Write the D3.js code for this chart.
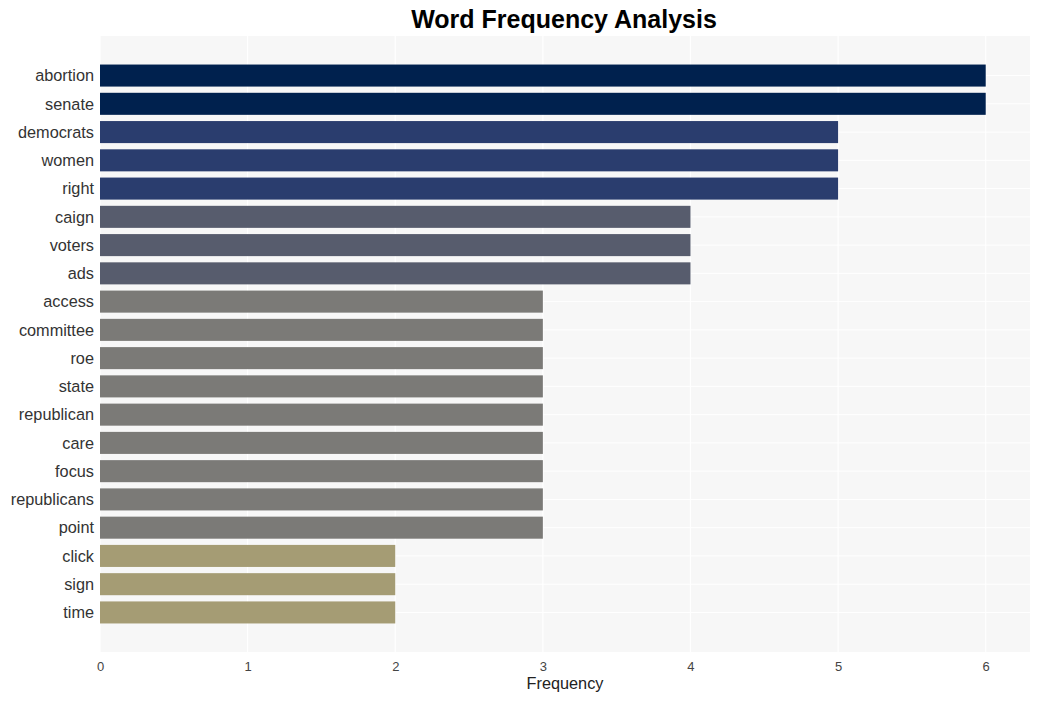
<!DOCTYPE html>
<html>
<head>
<meta charset="utf-8">
<script src="https://cdn.jsdelivr.net/npm/d3@7"></script>
<style>
  html, body { margin: 0; padding: 0; background: #ffffff; }
  text { font-family: "Liberation Sans", Arial, sans-serif; }
</style>
</head>
<body>
<svg id="chart" width="1039" height="701"></svg>
<script>
const words = ["abortion","senate","democrats","women","right","caign","voters","ads","access","committee","roe","state","republican","care","focus","republicans","point","click","sign","time"];
const counts = [6,6,5,5,5,4,4,4,3,3,3,3,3,3,3,3,3,2,2,2];
const xTicks = [0,1,2,3,4,5,6];
const colorKeys = [2,3,4,5,6];
const colorVals = ["#a59c74","#7b7a77","#575c6d","#2a3d6e","#00214e"];

const svg = d3.select("#chart");
const pLeft = 100, pRight = 1030, pTop = 36, pBottom = 652;

const x = d3.scaleLinear().domain([0, 6.3]).range([pLeft, pRight]);
const y = d3.scalePoint().domain(words).range([pTop, pBottom]).padding(1.4);
const color = d3.scaleOrdinal().domain(colorKeys).range(colorVals);
const barH = y.step() * 0.78;

// panel
svg.append("rect").attr("x", pLeft).attr("y", pTop)
  .attr("width", pRight - pLeft).attr("height", pBottom - pTop).attr("fill", "#f7f7f7");

// grid
svg.append("g").selectAll("line").data(words).join("line")
  .attr("x1", pLeft).attr("x2", pRight)
  .attr("y1", d => y(d)).attr("y2", d => y(d))
  .attr("stroke", "#ffffff").attr("stroke-width", 1);
svg.append("g").selectAll("line").data(xTicks).join("line")
  .attr("x1", d => x(d)).attr("x2", d => x(d))
  .attr("y1", pTop).attr("y2", pBottom)
  .attr("stroke", "#ffffff").attr("stroke-width", 1.2);

// bars
svg.append("g").selectAll("rect").data(words).join("rect")
  .attr("x", x(0))
  .attr("y", d => y(d) - barH / 2)
  .attr("width", (d, i) => x(counts[i]) - x(0))
  .attr("height", barH)
  .attr("fill", (d, i) => color(counts[i]));

// x axis
const xAxis = svg.append("g").attr("transform", `translate(0,${pBottom})`)
  .call(d3.axisBottom(x).tickValues(xTicks).tickFormat(d3.format("d")).tickSize(0).tickPadding(10));
xAxis.select(".domain").remove();
xAxis.selectAll("text").attr("font-size", 13).attr("fill", "#444444")
  .attr("font-family", "'Liberation Sans', Arial, sans-serif");

// y axis
const yAxis = svg.append("g").attr("transform", `translate(${pLeft},0)`)
  .call(d3.axisLeft(y).tickSize(0).tickPadding(6));
yAxis.select(".domain").remove();
yAxis.selectAll("text").attr("font-size", 16.3).attr("fill", "#333333")
  .attr("font-family", "'Liberation Sans', Arial, sans-serif");

// axis title
svg.append("text").attr("x", (pLeft + pRight) / 2).attr("y", 689)
  .attr("text-anchor", "middle").attr("font-size", 16.3).attr("fill", "#222222")
  .text("Frequency");

// title
svg.append("text").attr("x", 564).attr("y", 28)
  .attr("text-anchor", "middle").attr("font-size", 25).attr("font-weight", "bold")
  .attr("fill", "#000000").text("Word Frequency Analysis");
</script>
</body>
</html>
